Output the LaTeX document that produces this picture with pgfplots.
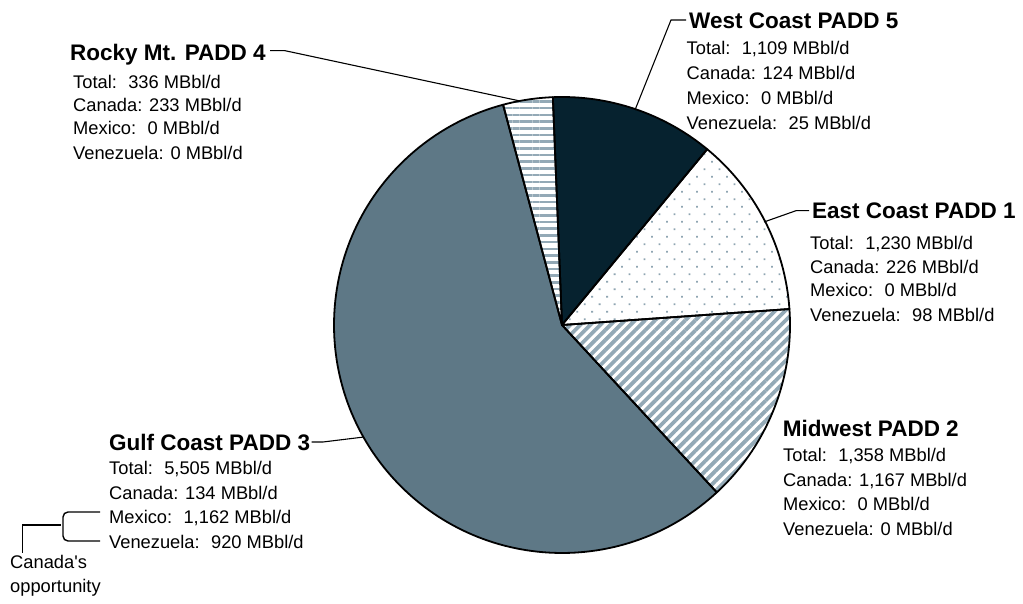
\documentclass[border=0pt]{standalone}
\usepackage{fontspec}
\setmainfont{Liberation Sans}
\newfontfamily\plainfont{Liberation Sans}[Ligatures=TeXOff]
\usepackage{pgfplots}
\pgfplotsset{compat=1.18}
\usepackage{pgfplotstable}
\usetikzlibrary{patterns.meta}

\definecolor{westc}{HTML}{06222F}
\definecolor{gulfc}{HTML}{5E7886}
\definecolor{stripe}{HTML}{93A9B6}
\definecolor{dotc}{HTML}{8FA5B2}

% PADD crude imports (MBbl/d)
\pgfplotstableread{
region value
West 1109
East 1230
Midwest 1358
Gulf 5505
Rocky 336
}\padd

\pgfplotstablegetelem{0}{value}\of\padd \let\vA\pgfplotsretval
\pgfplotstablegetelem{1}{value}\of\padd \let\vB\pgfplotsretval
\pgfplotstablegetelem{2}{value}\of\padd \let\vC\pgfplotsretval
\pgfplotstablegetelem{3}{value}\of\padd \let\vD\pgfplotsretval
\pgfplotstablegetelem{4}{value}\of\padd \let\vE\pgfplotsretval
\pgfmathsetmacro\tot{(\vA+\vB+\vC+\vD+\vE)/100}
\pgfmathsetmacro\aA{92.3}
\pgfmathsetmacro\aB{\aA-3.6*(\vA/\tot)}
\pgfmathsetmacro\aC{\aB-3.6*(\vB/\tot)}
\pgfmathsetmacro\aD{\aC-3.6*(\vC/\tot)}
\pgfmathsetmacro\aE{\aD-3.6*(\vD/\tot)}
\pgfmathsetmacro\aF{\aE-3.6*(\vE/\tot)}

\def\cx{562}\def\cy{279}\def\R{228}
\newcommand\sect[3]{%
  \path[#3] (axis cs:\cx,\cy) -- (axis cs:{\cx+\R*cos(#1)},{\cy+\R*sin(#1)})
    arc[start angle=#1, end angle=#2, radius=\R pt] -- cycle;}
\newcommand\dsp{\hspace{0.62em}}

\tikzset{
  ttl/.style={anchor=base west, inner sep=0pt, font=\fontsize{22.5}{27}\selectfont\bfseries},
  txt/.style={anchor=base west, inner sep=0pt, font=\fontsize{18.3}{22}\selectfont},
  lead/.style={line width=1.1pt, black},
}

\begin{document}
\begin{tikzpicture}
\begin{axis}[x=1pt, y=1pt, xmin=0, xmax=1023, ymin=0, ymax=604,
  hide axis, clip=false, scale only axis]
\path[draw=none] (axis cs:0,0) rectangle (axis cs:1023,604);

% sectors
\sect{\aA}{\aB}{fill=westc}
\sect{\aB}{\aC}{fill=white}
\sect{\aB}{\aC}{pattern={Dots[distance=10.6pt, angle=45, radius=1.25pt]}, pattern color=dotc}
\sect{\aC}{\aD}{fill=white}
\sect{\aC}{\aD}{pattern={Lines[angle=45, distance=7.1pt, line width=3.8pt]}, pattern color=stripe}
\sect{\aD}{\aE}{fill=gulfc}
\sect{\aE}{\aF}{fill=white}
\sect{\aE}{\aF}{pattern={Lines[angle=0, distance=6.7pt, line width=2.6pt]}, pattern color=stripe}
\sect{\aA}{\aB}{draw=black, line width=1.8pt, line join=round}
\sect{\aB}{\aC}{draw=black, line width=1.8pt, line join=round}
\sect{\aC}{\aD}{draw=black, line width=1.8pt, line join=round}
\sect{\aD}{\aE}{draw=black, line width=1.8pt, line join=round}
\sect{\aE}{\aF}{draw=black, line width=1.8pt, line join=round}

% leaders
\draw[lead] (axis cs:635,494) -- (axis cs:671,584) -- (axis cs:686,584);
\draw[lead] (axis cs:764,382) -- (axis cs:796,393.3) -- (axis cs:809,393.3);
\draw[lead] (axis cs:311.7,162) -- (axis cs:323,162) -- (axis cs:364,167);
\draw[lead] (axis cs:270,553.3) -- (axis cs:285,553.3) -- (axis cs:520,503);

% West Coast
\node[ttl] at (axis cs:689,575.3) {West Coast PADD 5};
\node[txt] at (axis cs:686.5,549.8) {Total:\dsp 1,109 MBbl/d};
\node[txt] at (axis cs:686.5,524.2) {Canada: 124 MBbl/d};
\node[txt] at (axis cs:686.5,499.5) {Mexico:\dsp 0 MBbl/d};
\node[txt] at (axis cs:686.5,474.8) {Venezuela:\dsp 25 MBbl/d};
% East Coast
\node[ttl] at (axis cs:812,385.3) {East Coast PADD 1};
\node[txt] at (axis cs:810,354.8) {Total:\dsp 1,230 MBbl/d};
\node[txt] at (axis cs:810,330.8) {Canada: 226 MBbl/d};
\node[txt] at (axis cs:810,307.5) {Mexico:\dsp 0 MBbl/d};
\node[txt] at (axis cs:810,282.5) {Venezuela:\dsp 98 MBbl/d};
% Midwest
\node[ttl] at (axis cs:782.7,167.7) {Midwest PADD 2};
\node[txt] at (axis cs:783,142.5) {Total:\dsp 1,358 MBbl/d};
\node[txt] at (axis cs:783,117.5) {Canada: 1,167 MBbl/d};
\node[txt] at (axis cs:783,93.2) {Mexico:\dsp 0 MBbl/d};
\node[txt] at (axis cs:783,68.2) {Venezuela: 0 MBbl/d};
% Gulf Coast
\node[ttl] at (axis cs:109,153.3) {Gulf Coast PADD 3};
\node[txt] at (axis cs:109,129.2) {Total:\dsp 5,505 MBbl/d};
\node[txt] at (axis cs:109,104.8) {Canada: 134 MBbl/d};
\node[txt] at (axis cs:109,80.8) {Mexico:\dsp 1,162 MBbl/d};
\node[txt] at (axis cs:109,55.8) {Venezuela:\dsp 920 MBbl/d};
% Rocky Mt.
\node[ttl] at (axis cs:70,543) {Rocky Mt. PADD 4};
\node[txt] at (axis cs:73,515.8) {Total:\dsp 336 MBbl/d};
\node[txt] at (axis cs:73,492.5) {Canada: 233 MBbl/d};
\node[txt] at (axis cs:73,469.5) {Mexico:\dsp 0 MBbl/d};
\node[txt] at (axis cs:73,444.8) {Venezuela: 0 MBbl/d};

% bracket
\draw[lead, line width=1.4pt] (axis cs:22.7,51) -- (axis cs:22.7,79) -- (axis cs:61,79);
\draw[lead, line width=1.4pt, rounded corners=5pt] (axis cs:100,92) -- (axis cs:63,92) -- (axis cs:63,63) -- (axis cs:100,63);
\node[txt] at (axis cs:10,35) {\plainfont Canada's};
\node[txt] at (axis cs:10,11) {opportunity};
\end{axis}
\end{tikzpicture}
\end{document}
